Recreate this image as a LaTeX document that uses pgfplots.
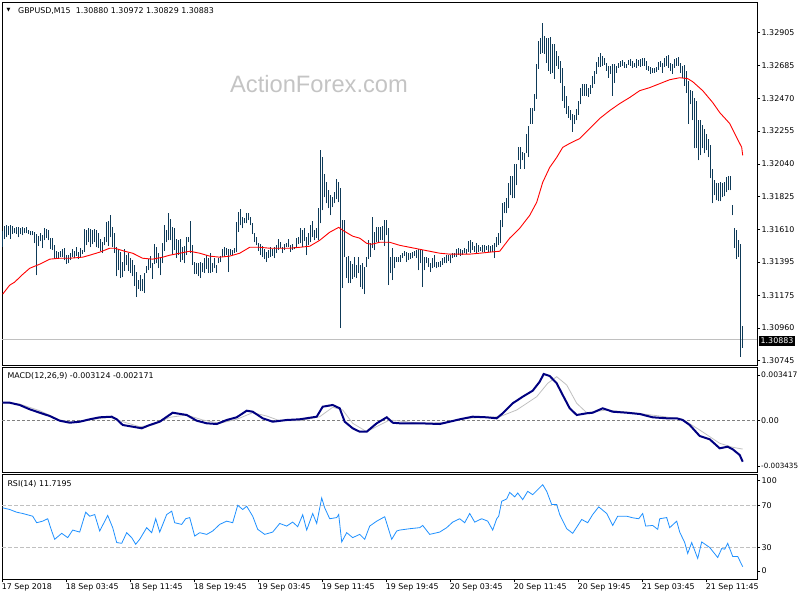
\documentclass[border=0pt]{standalone}
\usepackage{pgfplots}
\pgfplotsset{compat=1.18}
\usepackage{pgfplotstable}
\usepackage{fontspec}
\setmainfont{DejaVu Sans}
\newfontfamily\wmfont{Liberation Sans}
\definecolor{barcol}{RGB}{14,58,88}
\definecolor{macdcol}{RGB}{0,0,128}
\definecolor{sigcol}{RGB}{192,192,192}
\definecolor{rsicol}{RGB}{30,144,255}
\definecolor{wmcol}{RGB}{196,196,196}
\newcommand\tickfont{\fontsize{7.9}{9}\selectfont}

% GBPUSD M15 bars: index, high, low
\pgfplotstableread{
i h l
0 1.31596 1.31491
1 1.31629 1.31544
2 1.31635 1.31557
3 1.31629 1.31570
4 1.31635 1.31544
5 1.31629 1.31577
6 1.31616 1.31583
7 1.31622 1.31577
8 1.31622 1.31557
9 1.31616 1.31577
10 1.31622 1.31570
11 1.31616 1.31583
12 1.31622 1.31583
13 1.31603 1.31577
14 1.31596 1.31570
15 1.31596 1.31570
16 1.31590 1.31517
17 1.31577 1.31307
18 1.31564 1.31498
19 1.31583 1.31531
20 1.31570 1.31485
21 1.31616 1.31537
22 1.31609 1.31551
23 1.31603 1.31537
24 1.31551 1.31478
25 1.31551 1.31472
26 1.31504 1.31413
27 1.31465 1.31419
28 1.31459 1.31413
29 1.31465 1.31426
30 1.31478 1.31426
31 1.31485 1.31406
32 1.31439 1.31380
33 1.31439 1.31386
34 1.31452 1.31406
35 1.31478 1.31426
36 1.31465 1.31419
37 1.31491 1.31433
38 1.31459 1.31413
39 1.31485 1.31426
40 1.31472 1.31446
41 1.31609 1.31459
42 1.31603 1.31504
43 1.31616 1.31524
44 1.31609 1.31491
45 1.31603 1.31511
46 1.31609 1.31524
47 1.31603 1.31491
48 1.31583 1.31485
49 1.31544 1.31465
50 1.31524 1.31452
51 1.31557 1.31504
52 1.31655 1.31524
53 1.31662 1.31498
54 1.31701 1.31557
55 1.31622 1.31491
56 1.31583 1.31452
57 1.31491 1.31300
58 1.31472 1.31340
59 1.31459 1.31288
60 1.31393 1.31294
61 1.31478 1.31334
62 1.31439 1.31373
63 1.31452 1.31334
64 1.31419 1.31321
65 1.31406 1.31300
66 1.31373 1.31235
67 1.31327 1.31164
68 1.31275 1.31216
69 1.31307 1.31203
70 1.31281 1.31203
71 1.31321 1.31190
72 1.31367 1.31321
73 1.31413 1.31340
74 1.31433 1.31353
75 1.31386 1.31281
76 1.31511 1.31380
77 1.31491 1.31386
78 1.31452 1.31353
79 1.31419 1.31307
80 1.31517 1.31386
81 1.31635 1.31465
82 1.31603 1.31524
83 1.31714 1.31537
84 1.31675 1.31537
85 1.31622 1.31439
86 1.31616 1.31472
87 1.31544 1.31419
88 1.31537 1.31439
89 1.31544 1.31393
90 1.31491 1.31406
91 1.31498 1.31386
92 1.31557 1.31439
93 1.31557 1.31524
94 1.31662 1.31452
95 1.31504 1.31373
96 1.31393 1.31314
97 1.31386 1.31314
98 1.31386 1.31300
99 1.31393 1.31288
100 1.31386 1.31327
101 1.31419 1.31321
102 1.31439 1.31347
103 1.31419 1.31321
104 1.31452 1.31321
105 1.31386 1.31327
106 1.31419 1.31353
107 1.31373 1.31321
108 1.31419 1.31386
109 1.31433 1.31393
110 1.31478 1.31426
111 1.31491 1.31426
112 1.31485 1.31439
113 1.31478 1.31327
114 1.31478 1.31439
115 1.31472 1.31439
116 1.31485 1.31452
117 1.31655 1.31459
118 1.31721 1.31590
119 1.31741 1.31635
120 1.31688 1.31616
121 1.31682 1.31649
122 1.31714 1.31649
123 1.31714 1.31668
124 1.31688 1.31635
125 1.31649 1.31577
126 1.31583 1.31524
127 1.31557 1.31504
128 1.31517 1.31465
129 1.31511 1.31439
130 1.31498 1.31426
131 1.31478 1.31413
132 1.31459 1.31393
133 1.31472 1.31419
134 1.31491 1.31426
135 1.31478 1.31433
136 1.31491 1.31419
137 1.31504 1.31452
138 1.31544 1.31472
139 1.31524 1.31485
140 1.31491 1.31452
141 1.31511 1.31472
142 1.31517 1.31491
143 1.31544 1.31491
144 1.31504 1.31459
145 1.31511 1.31472
146 1.31491 1.31478
147 1.31551 1.31491
148 1.31557 1.31511
149 1.31616 1.31517
150 1.31603 1.31491
151 1.31616 1.31531
152 1.31557 1.31439
153 1.31583 1.31504
154 1.31635 1.31524
155 1.31662 1.31557
156 1.31603 1.31537
157 1.31616 1.31551
158 1.31747 1.31537
159 1.32134 1.31649
160 1.32082 1.31734
161 1.31976 1.31819
162 1.31918 1.31780
163 1.31865 1.31747
164 1.31832 1.31701
165 1.31819 1.31754
166 1.31852 1.31780
167 1.31937 1.31806
168 1.31918 1.31787
169 1.31878 1.30960
170 1.31668 1.31222
171 1.31668 1.31426
172 1.31426 1.31288
173 1.31433 1.31255
174 1.31400 1.31255
175 1.31380 1.31281
176 1.31426 1.31294
177 1.31373 1.31288
178 1.31426 1.31321
179 1.31373 1.31229
180 1.31386 1.31216
181 1.31360 1.31183
182 1.31426 1.31360
183 1.31537 1.31413
184 1.31517 1.31426
185 1.31688 1.31485
186 1.31590 1.31472
187 1.31622 1.31524
188 1.31622 1.31524
189 1.31622 1.31537
190 1.31629 1.31537
191 1.31668 1.31498
192 1.31668 1.31570
193 1.31616 1.31242
194 1.31426 1.31321
195 1.31485 1.31275
196 1.31426 1.31353
197 1.31426 1.31393
198 1.31426 1.31393
199 1.31439 1.31393
200 1.31452 1.31419
201 1.31465 1.31433
202 1.31459 1.31393
203 1.31452 1.31406
204 1.31452 1.31413
205 1.31459 1.31419
206 1.31465 1.31433
207 1.31472 1.31419
208 1.31478 1.31340
209 1.31472 1.31386
210 1.31472 1.31229
211 1.31426 1.31340
212 1.31426 1.31386
213 1.31419 1.31360
214 1.31386 1.31327
215 1.31419 1.31353
216 1.31439 1.31360
217 1.31393 1.31353
218 1.31393 1.31360
219 1.31400 1.31360
220 1.31419 1.31373
221 1.31426 1.31386
222 1.31439 1.31386
223 1.31439 1.31400
224 1.31439 1.31386
225 1.31452 1.31419
226 1.31452 1.31426
227 1.31478 1.31426
228 1.31485 1.31439
229 1.31478 1.31433
230 1.31472 1.31439
231 1.31485 1.31452
232 1.31478 1.31446
233 1.31531 1.31459
234 1.31537 1.31452
235 1.31524 1.31472
236 1.31498 1.31459
237 1.31517 1.31452
238 1.31504 1.31459
239 1.31491 1.31465
240 1.31504 1.31459
241 1.31504 1.31459
242 1.31498 1.31472
243 1.31504 1.31459
244 1.31498 1.31459
245 1.31504 1.31459
246 1.31517 1.31419
247 1.31557 1.31491
248 1.31583 1.31504
249 1.31668 1.31517
250 1.31780 1.31622
251 1.31787 1.31714
252 1.31813 1.31714
253 1.31912 1.31747
254 1.31963 1.31832
255 1.31963 1.31813
256 1.32042 1.31813
257 1.32042 1.31898
258 1.32148 1.32062
259 1.32148 1.32009
260 1.32115 1.32062
261 1.32108 1.32009
262 1.32239 1.32108
263 1.32286 1.32082
264 1.32410 1.32305
265 1.32410 1.32305
266 1.32501 1.32390
267 1.32698 1.32469
268 1.32849 1.32665
269 1.32869 1.32764
270 1.32967 1.32771
271 1.32882 1.32764
272 1.32869 1.32705
273 1.32869 1.32652
274 1.32875 1.32632
275 1.32829 1.32639
276 1.32829 1.32600
277 1.32784 1.32685
278 1.32751 1.32665
279 1.32718 1.32574
280 1.32672 1.32456
281 1.32554 1.32410
282 1.32489 1.32370
283 1.32423 1.32343
284 1.32397 1.32325
285 1.32370 1.32252
286 1.32364 1.32305
287 1.32403 1.32325
288 1.32456 1.32364
289 1.32541 1.32430
290 1.32567 1.32489
291 1.32567 1.32489
292 1.32567 1.32489
293 1.32541 1.32482
294 1.32561 1.32501
295 1.32620 1.32541
296 1.32652 1.32567
297 1.32711 1.32632
298 1.32744 1.32679
299 1.32771 1.32679
300 1.32751 1.32685
301 1.32738 1.32692
302 1.32705 1.32652
303 1.32685 1.32606
304 1.32685 1.32632
305 1.32698 1.32489
306 1.32698 1.32574
307 1.32685 1.32639
308 1.32705 1.32672
309 1.32718 1.32679
310 1.32725 1.32685
311 1.32711 1.32672
312 1.32698 1.32672
313 1.32725 1.32692
314 1.32731 1.32685
315 1.32718 1.32672
316 1.32705 1.32679
317 1.32731 1.32672
318 1.32725 1.32685
319 1.32731 1.32679
320 1.32738 1.32685
321 1.32738 1.32685
322 1.32718 1.32659
323 1.32685 1.32652
324 1.32679 1.32632
325 1.32672 1.32639
326 1.32672 1.32639
327 1.32679 1.32646
328 1.32711 1.32659
329 1.32718 1.32679
330 1.32705 1.32639
331 1.32738 1.32679
332 1.32751 1.32685
333 1.32758 1.32672
334 1.32705 1.32652
335 1.32698 1.32632
336 1.32731 1.32672
337 1.32738 1.32685
338 1.32744 1.32685
339 1.32705 1.32639
340 1.32685 1.32606
341 1.32692 1.32554
342 1.32652 1.32508
343 1.32587 1.32305
344 1.32528 1.32430
345 1.32521 1.32325
346 1.32476 1.32141
347 1.32456 1.32141
348 1.32325 1.32062
349 1.32325 1.32095
350 1.32292 1.32141
351 1.32272 1.32108
352 1.32239 1.32128
353 1.32200 1.32082
354 1.32161 1.31944
355 1.32009 1.31780
356 1.31931 1.31832
357 1.31911 1.31800
358 1.31911 1.31793
359 1.31918 1.31793
360 1.31911 1.31819
361 1.31918 1.31826
362 1.31951 1.31852
363 1.31963 1.31865
364 1.31957 1.31865
365 1.31767 1.31701
366 1.31616 1.31485
367 1.31603 1.31413
368 1.31537 1.31426
369 1.31511 1.30770
370 1.30972 1.30829
}\bars

% moving average (red)
\pgfplotstableread{
i p
0 1.31183
3.5 1.31242
6 1.31262
9.5 1.31307
13.5 1.31353
18.5 1.31380
23.5 1.31413
28.5 1.31419
33.5 1.31419
40 1.31426
43.5 1.31439
48.5 1.31459
53.5 1.31485
56 1.31485
61 1.31465
65 1.31452
70 1.31419
75 1.31413
80 1.31426
83.5 1.31439
88.5 1.31452
93.5 1.31465
98.5 1.31452
103.5 1.31433
108.5 1.31426
113.5 1.31433
118.5 1.31452
123.5 1.31491
128.5 1.31491
133.5 1.31485
138.5 1.31485
143.5 1.31485
148.5 1.31491
153.5 1.31498
158.5 1.31537
163.5 1.31590
168 1.31622
170 1.31603
175 1.31564
178.5 1.31551
182 1.31517
184.5 1.31511
188.5 1.31524
193.5 1.31524
198.5 1.31504
203.5 1.31491
208.5 1.31478
213.5 1.31465
218.5 1.31452
223.5 1.31446
228.5 1.31446
233.5 1.31446
238.5 1.31452
243.5 1.31459
248.5 1.31465
253.5 1.31551
258.5 1.31616
263.5 1.31701
267 1.31787
270 1.31918
273.5 1.32016
277 1.32082
280 1.32148
283.5 1.32174
288.5 1.32206
293.5 1.32272
298.5 1.32338
303.5 1.32390
308.5 1.32436
313.5 1.32476
318.5 1.32521
323.5 1.32541
328.5 1.32567
333.5 1.32593
338.5 1.32606
342.5 1.32600
345 1.32580
350 1.32521
355 1.32443
358.5 1.32377
363.5 1.32305
367 1.32213
369.5 1.32148
370 1.32095
}\ma

% MACD main line
\pgfplotstableread{
i v
0 0.001327
3.5 0.001327
8.5 0.001154
13.5 0.000829
18.5 0.000573
23.5 0.000324
28.5 -0.000030
33.5 -0.000181
38.5 -0.000106
43.5 0.000075
48.5 0.000226
54.5 0.000271
57 0.000075
60 -0.000354
65 -0.000483
69.5 -0.000603
73.5 -0.000354
78.5 -0.000106
85 0.000573
92 0.000400
97 -0.000030
102 -0.000226
107 -0.000279
112 0.000023
117 0.000226
122 0.000724
125 0.000648
130 0.000151
135 -0.000106
142 0.000023
148.5 0.000075
157 0.000271
160 0.001025
165 0.001154
168.5 0.000905
171 -0.000106
175 -0.000603
178.5 -0.000860
182 -0.000860
187 -0.000226
192 0.000226
195 -0.000181
198.5 -0.000226
208.5 -0.000226
218.5 -0.000279
223.5 -0.000106
228.5 0.000075
235 0.000271
242 0.000226
247 0.000151
250 0.000528
255 0.001282
260 0.001779
265 0.002232
268.5 0.002910
270.5 0.003491
273.5 0.003340
277 0.002790
280 0.001908
283.5 0.000905
287 0.000400
292 0.000528
295 0.000573
300 0.000905
305 0.000648
312 0.000573
318.5 0.000475
325 0.000226
332 0.000151
337 0.000151
340 0.000023
343.5 -0.000354
348.5 -0.001184
353.5 -0.001433
358.5 -0.002111
362.5 -0.001991
365 -0.002187
368.5 -0.002616
370 -0.003124
}\macd

% MACD signal line
\pgfplotstableread{
i v
0 0.001327
8.5 0.001229
18.5 0.000724
28.5 0.000023
37 -0.000181
45 0.000075
53.5 0.000226
60 -0.000106
68.5 -0.000483
75 -0.000354
83.5 0.000226
92 0.000400
100 0.000023
108.5 -0.000226
117 0.000075
125 0.000573
132 0.000324
138.5 -0.000030
148.5 -0.000030
158.5 0.000271
165 0.000980
170 0.000777
175 -0.000226
182 -0.000860
188.5 -0.000354
193.5 0.000023
198.5 -0.000053
208.5 -0.000226
220 -0.000181
232 0.000151
248.5 0.000271
257 0.000777
267 0.001779
272.5 0.002790
277 0.003287
282 0.002662
287 0.001282
292 0.000573
302 0.000777
315 0.000573
328.5 0.000324
340 0.000075
348.5 -0.000731
358.5 -0.001734
365 -0.002036
370 -0.002171
}\signal

% RSI(14)
\pgfplotstableread{
i v
0 67.8
3.5 66.2
7 63.6
10 62.4
15 59.8
17 53.6
20 55.1
22.5 57.4
24.5 45.7
26 37.8
29.5 43.5
32.5 39.4
35 46.6
38.5 44.7
41.5 63.6
43.5 59.8
46 61.4
48.5 45.7
52.5 60.5
55 48.9
57 34.7
59.5 34.0
62 44.1
64.5 39.4
66.5 33.1
68.5 37.8
72 48.9
74.5 44.1
76.5 57.4
78.5 44.7
82 61.4
84.5 64.6
86 53.6
89.5 52.0
91.5 57.4
93.5 58.5
96 40.9
98.5 44.1
102 42.5
105 45.7
108.5 52.0
112 55.1
115 53.6
117.5 70.2
120 66.2
122 69.3
125 59.8
127.5 47.3
131 42.5
135 44.7
138.5 52.9
142 50.4
145 54.2
147.5 49.8
150 61.2
152 46.6
155 62.4
157 52.9
159.5 77.2
161 67.8
163.5 57.4
167 58.5
168 61.4
169.5 35.3
172 44.1
175 39.4
178.5 42.5
181 37.8
183.5 50.4
187 55.1
191 59.3
194.5 37.8
197 45.7
198.5 46.6
203.5 47.9
208.5 48.9
210 51.0
213.5 42.5
218.5 44.7
222 48.9
225 54.2
228.5 57.4
231 53.6
233.5 62.4
236 54.2
239.5 57.4
242.5 55.1
245 46.6
247 57.4
248 59.8
249.5 74.0
252 76.3
253.5 82.5
256 78.2
257.5 81.9
260 75.6
262.5 83.5
265 80.3
267.5 85.1
270 89.8
272 83.5
274.5 70.9
277 70.9
278.5 61.4
282 47.9
285 43.5
289.5 56.7
292.5 53.6
295 61.4
298 68.7
302 62.4
305 51.0
307.5 59.8
312 59.8
315 58.3
318 57.4
320 62.4
321.5 50.4
325 51.0
327.5 47.3
328.5 57.4
332 58.5
333.5 48.9
337 55.1
338.5 44.7
341 34.7
342.5 24.3
344.5 34.7
347.5 19.6
349.5 35.3
353.5 30.0
357.5 20.5
359.5 29.0
361 28.4
362.5 34.0
365 21.5
367.5 21.5
370 11.7
}\rsi

\pgfplotsset{
  panel/.style={
    scale only axis, anchor=south west, width=755pt,
    xmin=-0.35, xmax=377.15,
    axis line style={black, line width=0.8pt},
    ytick pos=right, yticklabel pos=right,
    tick align=outside, major tick length=3pt,
    tick style={black, line width=0.6pt},
    xtick=\empty,
    scaled y ticks=false,
    ticklabel style={font=\tickfont},
    yticklabel style={anchor=west, inner sep=1.5pt},
  },
}

\begin{document}
\begin{tikzpicture}
\path[use as bounding box] (0pt,0pt) rectangle (800pt,600pt);

% price panel
\begin{axis}[panel, at={(2pt,235pt)}, height=363pt,
  ymin=1.30717, ymax=1.33104,
  ytick={1.30745,1.30960,1.31175,1.31395,1.31610,1.31825,1.32040,1.32255,1.32470,1.32685,1.32905},
  yticklabels={1.30745,1.30960,1.31175,1.31395,1.31610,1.31825,1.32040,1.32255,1.32470,1.32685,1.32905},
]
\addplot[draw=sigcol, line width=0.8pt] coordinates {(-0.35,1.30883) (377.15,1.30883)};
\addplot[draw=none, mark=none, error bars/.cd, y dir=plus, y explicit, error mark=none,
  error bar style={draw=barcol, line width=1pt}]
  table[x=i, y=l, y error expr=\thisrow{h}-\thisrow{l}] {\bars};
\addplot[red, line width=0.9pt] table[x=i, y=p] {\ma};
\end{axis}

% MACD panel
\begin{axis}[panel, at={(2pt,128pt)}, height=105pt,
  ymin=-0.003898, ymax=0.004019,
  ytick={-0.003435,0,0.003417},
  yticklabels={{\fontsize{7.2}{9}\selectfont -0.003435},0.00,{\fontsize{7.6}{9}\selectfont 0.003417}},
  yticklabel style={inner sep=1pt},
]
\addplot[draw={rgb,255:red,128;green,128;blue,128}, line width=0.7pt, dash pattern=on 3pt off 2pt]
  coordinates {(-0.35,0) (377.15,0)};
\addplot[sigcol, line width=0.8pt] table[x=i, y=v] {\signal};
\addplot[macdcol, line width=2pt] table[x=i, y=v] {\macd};
\end{axis}

% RSI panel
\begin{axis}[panel, at={(2pt,21pt)}, height=105pt,
  ymin=0, ymax=100,
  ytick={7.6,30,70,93.6},
  yticklabels={0,30,70,100},
  xtick={0,32,64,96,128,160,192,224,256,288,320,352},
  xticklabels={17 Sep 2018,18 Sep 03:45,18 Sep 11:45,18 Sep 19:45,19 Sep 03:45,19 Sep 11:45,19 Sep 19:45,20 Sep 03:45,20 Sep 11:45,20 Sep 19:45,21 Sep 03:45,21 Sep 11:45},
  xtick pos=bottom,
  xticklabel style={anchor=north west, xshift=-2.5pt, inner sep=1.5pt},
]
\addplot[draw=sigcol, line width=0.7pt, dash pattern=on 4pt off 2pt] coordinates {(-0.35,70) (377.15,70)};
\addplot[draw=sigcol, line width=0.7pt, dash pattern=on 4pt off 2pt] coordinates {(-0.35,30) (377.15,30)};
\addplot[rsicol, line width=0.8pt] table[x=i, y=v] {\rsi};
\end{axis}

% texts
\node[anchor=west, inner sep=0pt, font=\fontsize{5}{6}\selectfont] at (6.5pt,589.3pt) {▼};
\node[anchor=west, inner sep=0pt, font=\tickfont] at (18pt,589.3pt) {GBPUSD,M15\ \ 1.30880 1.30972 1.30829 1.30883};
\node[wmcol, font=\wmfont\fontsize{23.7}{26}\selectfont] at (319pt,516pt) {ActionForex.com};
\node[anchor=west, inner sep=0pt, font=\tickfont] at (7.3pt,224pt) {MACD(12,26,9) -0.003124 -0.002171};
\node[anchor=west, inner sep=0pt, font=\tickfont] at (7.3pt,116pt) {RSI(14) 11.7195};
\node[anchor=west, fill=black, text=white, inner xsep=1.5pt, inner ysep=2pt, font=\tickfont] at (759pt,259pt) {1.30883};
\end{tikzpicture}
\end{document}
